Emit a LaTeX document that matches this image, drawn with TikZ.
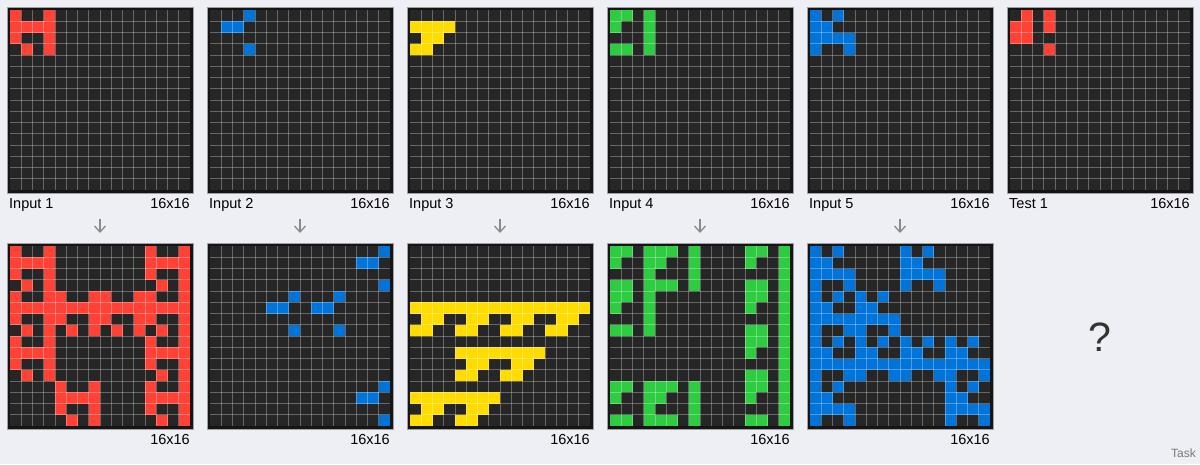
\documentclass[tikz,border=0pt]{standalone}
\usepackage{fontspec}
\setmainfont{Liberation Sans}
\usetikzlibrary{calc}
\definecolor{bg}{HTML}{EEEEF5}
\definecolor{cellbg}{HTML}{262626}
\definecolor{framec}{HTML}{151515}
\definecolor{edgec}{HTML}{A0A0A0}
\definecolor{arcred}{HTML}{FF4136}
\definecolor{arcblue}{HTML}{0074D9}
\definecolor{arcyellow}{HTML}{FFDC00}
\definecolor{arcgreen}{HTML}{2ECC40}
\definecolor{arrowc}{HTML}{8A8A8A}
\definecolor{taskc}{HTML}{7A7A7A}
\definecolor{qc}{HTML}{333333}
\newcommand\gridbase[2]{%
  \fill[framec] (#1,#2) rectangle ++(186,186);
  \draw[edgec, line width=0.8] (#1,#2) rectangle ++(186,186);
  \fill[cellbg] (#1+3,#2+3) rectangle ++(180,180);
}
\newcommand\gridlines[2]{%
  \foreach \k in {1,...,15} {
    \draw[white, opacity=0.3, line width=0.9] ({#1+3+\k*11.25},#2+3) -- ++(0,180);
    \draw[white, opacity=0.3, line width=0.9] (#1+3,{#2+3+\k*11.25}) -- ++(180,0);
  }
}
\newcommand\smallpat[4]{% ox oy list color
  \foreach \a/\b in #3 {
    \fill[#4] ({#1+3+\b*11.25},{#2+3+\a*11.25}) rectangle ++(11.25,11.25);
  }
}
\newcommand\kronpat[4]{% ox oy list color
  \foreach \a/\b in #3 {
    \foreach \c/\d in #3 {
      \fill[#4] ({#1+3+(4*\b+\d)*11.25},{#2+3+(4*\a+\c)*11.25}) rectangle ++(11.25,11.25);
    }
  }
}
\def\pA{0/0,0/3,1/0,1/1,1/2,1/3,2/0,2/3,3/1,3/3}
\def\pB{0/3,1/1,1/2,3/3}
\def\pC{1/0,1/1,1/2,1/3,2/1,2/2,3/0,3/1}
\def\pD{0/0,0/1,0/3,1/0,1/3,2/3,3/0,3/1,3/3}
\def\pE{0/0,0/2,1/0,1/1,2/0,2/1,2/2,2/3,3/0,3/3}
\def\pT{0/1,0/3,1/0,1/1,1/3,2/0,2/1,3/3}
\begin{document}
\begin{tikzpicture}[x=1pt,y=-1pt,
  lab/.style={font=\fontsize{14.5}{16}\selectfont, text=black, inner sep=0pt},
  darrow/.style={draw=arrowc, line width=1.3}]
\useasboundingbox (0,0) rectangle (1200,464);
\fill[bg] (0,0) rectangle (1200,464);
% column 1
\gridbase{7}{7} \smallpat{7}{7}{\pA}{arcred} \gridlines{7}{7}
\gridbase{7}{243} \kronpat{7}{243}{\pA}{arcred} \gridlines{7}{243}
% column 2
\gridbase{207}{7} \smallpat{207}{7}{\pB}{arcblue} \gridlines{207}{7}
\gridbase{207}{243} \kronpat{207}{243}{\pB}{arcblue} \gridlines{207}{243}
% column 3
\gridbase{407}{7} \smallpat{407}{7}{\pC}{arcyellow} \gridlines{407}{7}
\gridbase{407}{243} \kronpat{407}{243}{\pC}{arcyellow} \gridlines{407}{243}
% column 4
\gridbase{607}{7} \smallpat{607}{7}{\pD}{arcgreen} \gridlines{607}{7}
\gridbase{607}{243} \kronpat{607}{243}{\pD}{arcgreen} \gridlines{607}{243}
% column 5
\gridbase{807}{7} \smallpat{807}{7}{\pE}{arcblue} \gridlines{807}{7}
\gridbase{807}{243} \kronpat{807}{243}{\pE}{arcblue} \gridlines{807}{243}
% test
\gridbase{1007}{7} \smallpat{1007}{7}{\pT}{arcred} \gridlines{1007}{7}
% labels
\node[lab, anchor=base west] (in1) at (9,208) {Input 1};
\node[lab, anchor=base west] (in2) at (209,208) {Input 2};
\node[lab, anchor=base west] (in3) at (409,208) {Input 3};
\node[lab, anchor=base west] (in4) at (609,208) {Input 4};
\node[lab, anchor=base west] (in5) at (809,208) {Input 5};
\node[lab, anchor=base west] (te1) at (1009,208) {Test 1};
\foreach \i/\x in {1/190,2/390,3/590,4/790,5/990,6/1190} {
  \node[lab, anchor=base east] (sz\i) at (\x,208) {16x16};
}
\foreach \i/\x in {1/190,2/390,3/590,4/790,5/990} {
  \node[lab, anchor=base east] (so\i) at (\x,444) {16x16};
}
% arrows
\foreach \i/\x in {1/100,2/300,3/500,4/700,5/900} {
  \coordinate (at\i) at (\x,218.5);
  \coordinate (ab\i) at (\x,232);
  \draw[darrow] (at\i) -- (ab\i);
  \draw[darrow, line join=miter] ($(ab\i)+(-5.5,-6)$) -- (ab\i) -- ($(ab\i)+(5.5,-6)$);
}
\node[font=\fontsize{41}{44}\selectfont, text=qc, inner sep=0pt, anchor=base] (q) at (1100,351.5) {?};
\node[font=\fontsize{12}{14}\selectfont, text=taskc, anchor=base east, inner sep=0pt] (task) at (1196,457) {Task};
\end{tikzpicture}
\end{document}
